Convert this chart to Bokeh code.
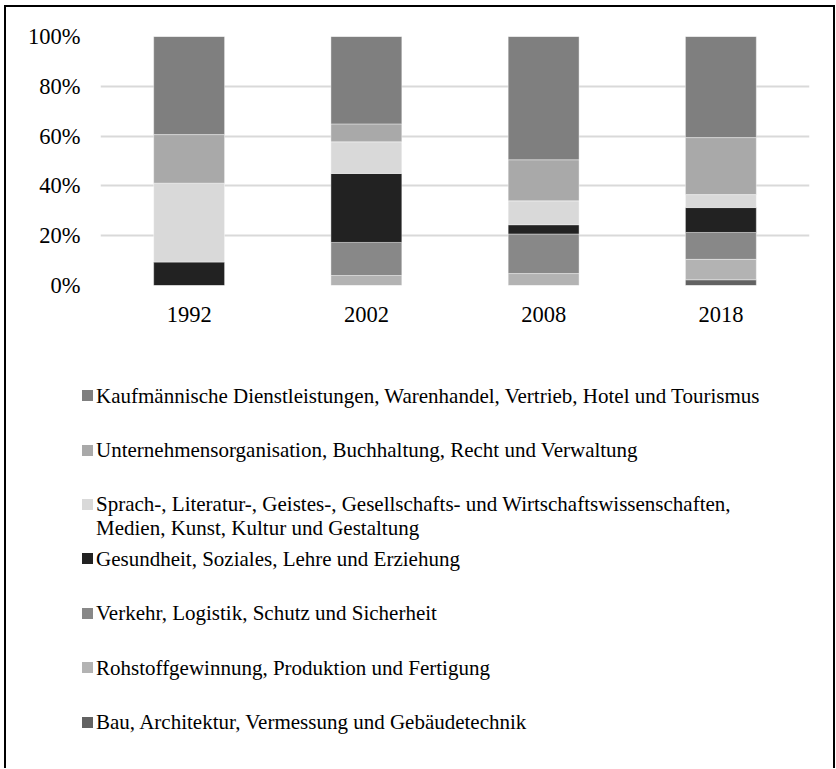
from bokeh.plotting import figure
from bokeh.models import FactorRange, Range1d, FixedTicker, ColumnDataSource, Div
from bokeh.layouts import column
from bokeh.embed import file_html
from bokeh.resources import INLINE

# ---------------- data ----------------
years = ["1992", "2002", "2008", "2018"]

# stack order, bottom -> top
series_names = [
    "Bau, Architektur, Vermessung und Gebäudetechnik",
    "Rohstoffgewinnung, Produktion und Fertigung",
    "Verkehr, Logistik, Schutz und Sicherheit",
    "Gesundheit, Soziales, Lehre und Erziehung",
    "Sprach-, Literatur-, Geistes-, Gesellschafts- und Wirtschaftswissenschaften,\nMedien, Kunst, Kultur und Gestaltung",
    "Unternehmensorganisation, Buchhaltung, Recht und Verwaltung",
    "Kaufmännische Dienstleistungen, Warenhandel, Vertrieb, Hotel und Tourismus",
]
bau = [0.0, 0.0, 0.0, 2.3]
rohstoff = [0.0, 4.0, 4.8, 8.2]
verkehr = [0.0, 13.3, 15.9, 10.8]
gesundheit = [9.4, 27.7, 3.7, 10.0]
sprach = [31.7, 12.7, 9.6, 5.2]
unternehmen = [19.5, 7.2, 16.5, 22.9]
kaufm = [39.4, 35.1, 49.5, 40.6]

colors = ["#626262", "#b3b3b3", "#888888", "#222222", "#d9d9d9", "#a9a9a9", "#7f7f7f"]

ytick_values = [0, 20, 40, 60, 80, 100]
ytick_labels = ["0%", "20%", "40%", "60%", "80%", "100%"]

FONT = "Liberation Serif"

keys = ["bau", "rohstoff", "verkehr", "gesundheit", "sprach", "unternehmen", "kaufm"]
source = ColumnDataSource(dict(year=years, bau=bau, rohstoff=rohstoff, verkehr=verkehr,
                               gesundheit=gesundheit, sprach=sprach,
                               unternehmen=unternehmen, kaufm=kaufm))

# ---------------- chart ----------------
p1 = figure(x_range=FactorRange(*years), y_range=Range1d(0, 100),
            width=827, height=332, output_backend="svg", toolbar_location=None,
            min_border_left=94, min_border_right=24, min_border_top=29, min_border_bottom=54)
p1.outline_line_color = None
p1.background_fill_color = "white"
p1.border_fill_color = "white"

p1.vbar_stack(keys, x="year", width=0.4, color=colors, source=source,
              line_color="white", line_width=0.8, line_alpha=0.5)

p1.xgrid.visible = False
p1.ygrid.ticker = FixedTicker(ticks=ytick_values)
p1.ygrid.grid_line_color = "#d9d9d9"
p1.ygrid.grid_line_width = 2

p1.yaxis.ticker = FixedTicker(ticks=ytick_values)
p1.yaxis.major_label_overrides = {v: l for v, l in zip(ytick_values, ytick_labels)}
for ax in (p1.xaxis[0], p1.yaxis[0]):
    ax.axis_line_color = None
    ax.major_tick_line_color = None
    ax.minor_tick_line_color = None
    ax.major_tick_out = 0
    ax.major_label_text_font = FONT
    ax.major_label_text_font_size = "22.5px"
    ax.major_label_text_color = "black"
p1.yaxis.major_label_standoff = 20
p1.xaxis.major_label_standoff = 21

# ---------------- legend (HTML, built from the series lists) ----------------
order = list(range(len(series_names)))[::-1]
row_step = 54.4
first_center = 56.7
parts = []
for k, i in enumerate(order):
    cy = first_center + k * row_step
    parts.append(
        f'<div style="position:absolute;left:75.7px;top:{cy - 5.5:.1f}px;width:11px;height:11px;'
        f'background:{colors[i]};"></div>'
    )
    label = series_names[i].replace("\n", "<br>")
    parts.append(
        f'<div style="position:absolute;left:90px;top:{cy - 12.1:.1f}px;line-height:24px;'
        f'white-space:nowrap;">{label}</div>'
    )
legend_html = (
    f'<div style="position:relative;width:827px;height:429px;font-family:\'{FONT}\';'
    f'font-size:21px;color:#000;">' + "".join(parts) + "</div>"
)
legend = Div(text=legend_html, width=827, height=429, margin=0)

layout = column(p1, legend, styles={"border-top": "2px solid black", "border-left": "2px solid black",
                                    "border-right": "2px solid black", "margin-left": "4px",
                                    "margin-top": "5px"})

open("out.html", "w").write(file_html(layout, INLINE))
